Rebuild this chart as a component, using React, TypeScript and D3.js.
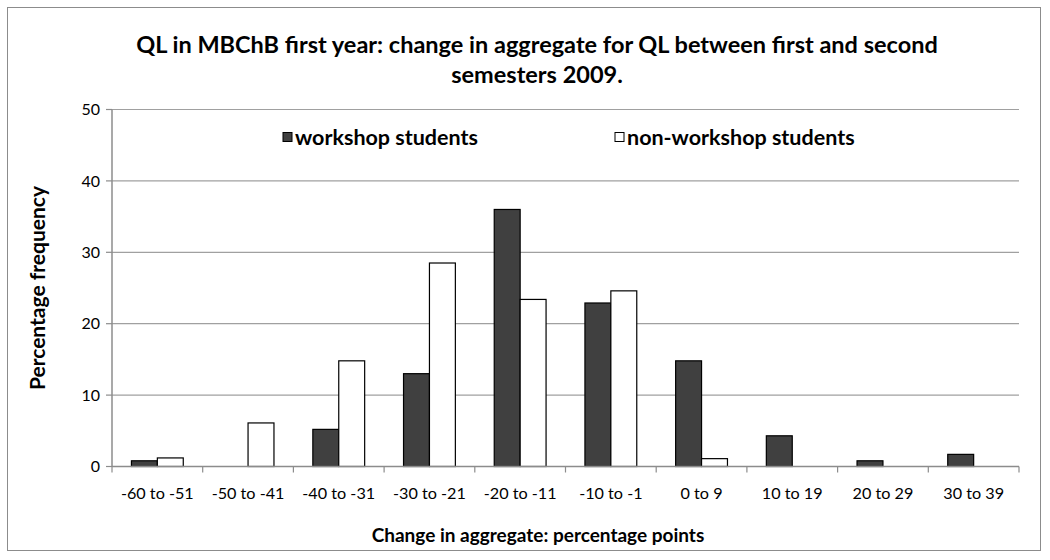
import React from 'react';
import * as d3 from 'd3';

const categories = ['-60 to -51', '-50 to -41', '-40 to -31', '-30 to -21', '-20 to -11', '-10 to -1', '0 to 9', '10 to 19', '20 to 29', '30 to 39'];
const workshop = [0.8, 0, 5.2, 13.0, 36.0, 22.9, 14.8, 4.3, 0.8, 1.7];
const nonWorkshop = [1.2, 6.1, 14.8, 28.5, 23.4, 24.6, 1.1, 0, 0, 0];
const yTicks = [0, 10, 20, 30, 40, 50];

const seriesNames = ['workshop students', 'non-workshop students'];
const seriesFill = ['#404040', '#ffffff'];

const W = 1050;
const H = 560;
const margin = { top: 109.5, right: 31, bottom: 93.5, left: 112 };
const font = 'Lato, "Open Sans", sans-serif';

const App = () => {
    const innerW = W - margin.left - margin.right;
    const innerH = H - margin.top - margin.bottom;

    const x = d3.scaleBand().domain(categories).range([0, innerW]).paddingInner(0).paddingOuter(0);
    // gap width 150% of a bar, like the spreadsheet default
    const barW = x.bandwidth() / 3.5;
    const y = d3.scaleLinear().domain([0, 50]).range([innerH, 0]);

    const series = [workshop, nonWorkshop];

    return (
        <svg width={W} height={H} style={{ display: 'block', position: 'absolute', left: 0, top: 0 }}>
            <rect x={0} y={0} width={W} height={H} fill="#fff" />
            <rect x={7.5} y={7.5} width={1033} height={543} fill="#fff" stroke="#8c8c8c" strokeWidth={1} />

            <text x={537} y={53} textAnchor="middle" fontFamily={font} fontWeight="bold" fontSize={23.5} fill="#000">
                QL in MBChB first year: change in aggregate for QL between first and second
            </text>
            <text x={537} y={83} textAnchor="middle" fontFamily={font} fontWeight="bold" fontSize={23.5} fill="#000">
                semesters 2009.
            </text>

            <g transform={`translate(${margin.left},${margin.top})`}>
                {yTicks.map(t => (
                    <g key={t}>
                        {t > 0 && <line x1={0} x2={innerW} y1={y(t)} y2={y(t)} stroke="#a0a0a0" strokeWidth={1.2} />}
                        <line x1={-6} x2={0} y1={y(t)} y2={y(t)} stroke="#8c8c8c" strokeWidth={1.2} />
                        <text x={-12} y={y(t)} dy="0.35em" textAnchor="end" fontFamily={font} fontSize={16} fill="#000">{t}</text>
                    </g>
                ))}

                {series.map((vals, si) => vals.map((v, i) => (
                    v > 0 && (
                        <rect
                            key={`${si}-${i}`}
                            x={(x(categories[i]) ?? 0) + x.bandwidth() / 2 - barW + si * barW}
                            y={y(v)}
                            width={barW}
                            height={innerH - y(v)}
                            fill={seriesFill[si]}
                            stroke="#000"
                            strokeWidth={1.2}
                        />
                    )
                )))}

                <line x1={0} x2={0} y1={0} y2={innerH} stroke="#8c8c8c" strokeWidth={1.5} />
                <line x1={0} x2={innerW} y1={innerH} y2={innerH} stroke="#8c8c8c" strokeWidth={1.5} />
                {[...categories.map(c => x(c) ?? 0), innerW].map((px, i) => (
                    <line key={i} x1={px} x2={px} y1={innerH} y2={innerH + 6} stroke="#8c8c8c" strokeWidth={1.2} />
                ))}
                {categories.map(c => (
                    <text key={c} x={(x(c) ?? 0) + x.bandwidth() / 2} y={innerH + 32} textAnchor="middle" fontFamily={font} fontSize={16.2} fill="#000">{c}</text>
                ))}
            </g>

            <text transform="translate(45,288) rotate(-90)" textAnchor="middle" fontFamily={font} fontWeight="bold" fontSize={21} fill="#000">
                Percentage frequency
            </text>
            <text x={538} y={542} textAnchor="middle" fontFamily={font} fontWeight="bold" fontSize={19} fill="#000">
                Change in aggregate: percentage points
            </text>

            {seriesNames.map((name, i) => {
                const lx = i === 0 ? 283 : 615;
                return (
                    <g key={name}>
                        <rect x={lx} y={132.5} width={9} height={9} fill={seriesFill[i]} stroke="#000" strokeWidth={1} />
                        <text x={lx + 12} y={145} fontFamily={font} fontWeight="bold" fontSize={21.5} fill="#000">{name}</text>
                    </g>
                );
            })}
        </svg>
    );
};

export default App;
